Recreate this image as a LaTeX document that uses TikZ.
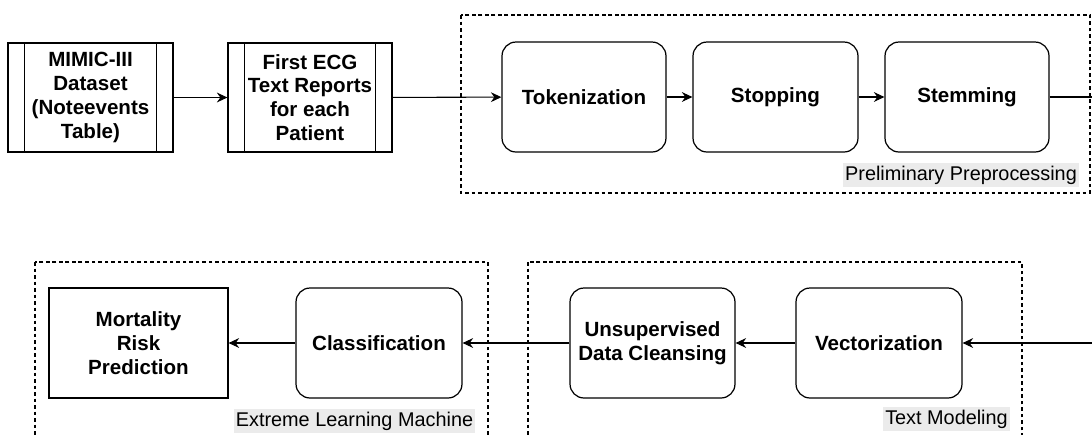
\documentclass[tikz,border=0pt]{standalone}
\usepackage{fontspec}
\setmainfont{Liberation Sans}
\usetikzlibrary{arrows.meta}
\definecolor{label-bg}{HTML}{EBEBEB}

\begin{document}
\begin{tikzpicture}[x=0.02cm, y=-0.02cm,
      every node/.style={font=\fontsize{11.3}{13.6}\selectfont},
      stepbox/.style={draw, line width=0.7pt, rounded corners=0.28cm,
        minimum height=2.2cm, align=center,
        font=\fontsize{11.7}{13.6}\selectfont\bfseries},
      procbox/.style={draw, line width=0.7pt, minimum height=2.18cm,
        minimum width=3.3cm, align=center,
        font=\fontsize{11.7}{13.6}\selectfont\bfseries,
        path picture={
          \draw[line width=0.7pt]
            ([xshift=0.33cm]path picture bounding box.north west) --
            ([xshift=0.33cm]path picture bounding box.south west)
            ([xshift=-0.33cm]path picture bounding box.north east) --
            ([xshift=-0.33cm]path picture bounding box.south east);}},
      group/.style={draw, line width=0.6pt, dash pattern=on 2.2pt off 1.5pt},
      grouplabel/.style={fill=label-bg, inner xsep=1.2pt, inner ysep=1.6pt},
      link/.style={line width=0.6pt,
        -{Stealth[length=6pt, width=5.6pt, inset=2pt]}}]
    \useasboundingbox (0,0) rectangle (1092,434);
    \clip (0,0) rectangle (1092,434);
    % ---- Top row: data sources and preliminary preprocessing
    \draw[group] (461,15) rectangle (1090,193);
    \node[procbox] (ds)  at (90.5,97.5) {MIMIC-III\\Dataset\\(Noteevents\\Table)};
    \node[procbox, minimum width=3.28cm] (ecg) at (310,97.5) {First ECG\\Text Reports\\for each\\Patient};
    \node[stepbox, minimum width=3.28cm] (tok)  at (584,97)   {Tokenization};
    \node[stepbox, minimum width=3.3cm]  (stop) at (775.5,97) {Stopping};
    \node[stepbox, minimum width=3.28cm] (stem) at (967,97)   {Stemming};
    \node[grouplabel] (lblpre) at (961,175) {Preliminary Preprocessing};
    % ---- Bottom row: extreme learning machine and text modeling
    \draw[group] (35,262) rectangle (488,460);
    \draw[group] (528,262) rectangle (1022,460);
    \node[draw, line width=0.7pt, minimum width=3.58cm, minimum height=2.2cm,
      align=center, font=\fontsize{11.7}{13.6}\selectfont\bfseries]
      (mort) at (138.5,343) {Mortality\\Risk\\Prediction};
    \node[stepbox, minimum width=3.32cm] (cls) at (379,343)   {Classification};
    \node[stepbox, minimum width=3.3cm]  (uns) at (652.5,343) {Unsupervised\\Data Cleansing};
    \node[stepbox, minimum width=3.32cm] (vec) at (879,343)   {Vectorization};
    \node[grouplabel] (lblelm) at (354.5,421) {Extreme Learning Machine};
    \node[grouplabel] (lbltm)  at (946.5,419) {Text Modeling};
    % ---- Connectors
    \coordinate (turn-top) at (1110,97);
    \coordinate (turn-bot) at (1110,343);
    \draw[link] (ds) -- (ecg);
    \draw[link] (ecg) -- (tok);
    \draw[link] (tok) -- (stop);
    \draw[link] (stop) -- (stem);
    \draw[link] (stem) -- (turn-top) -- (turn-bot) -- (vec);
    \draw[link] (vec) -- (uns);
    \draw[link] (uns) -- (cls);
    \draw[link] (cls) -- (mort);
  \end{tikzpicture}
\end{document}
